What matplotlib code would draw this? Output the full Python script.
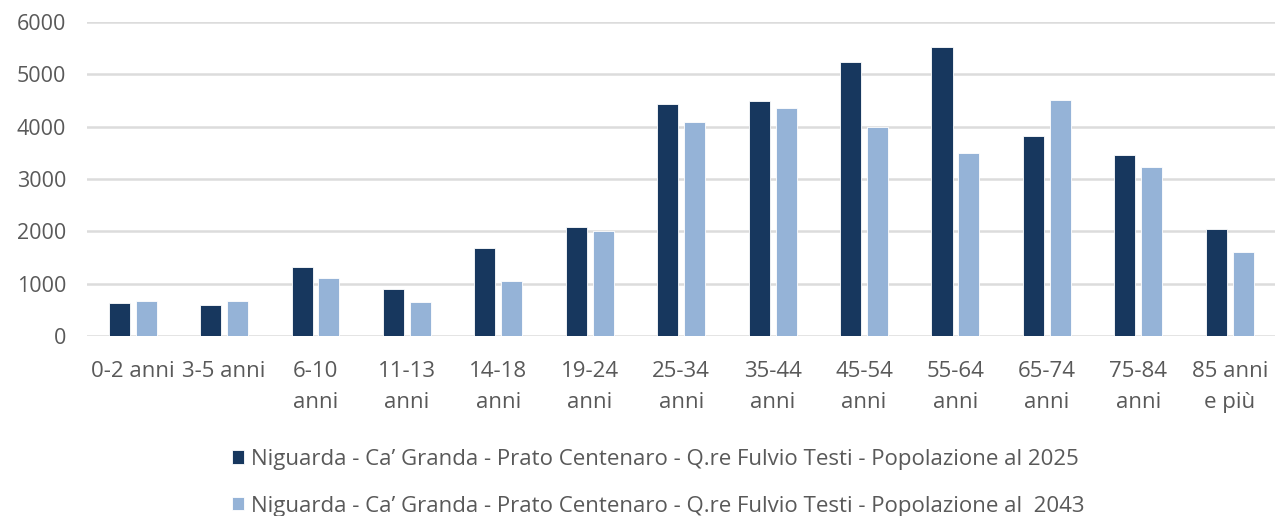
import numpy as np
import matplotlib.pyplot as plt

plt.rcParams['font.family'] = ['Open Sans', 'DejaVu Sans']

categories = ['0-2 anni', '3-5 anni', '6-10\nanni', '11-13\nanni', '14-18\nanni',
              '19-24\nanni', '25-34\nanni', '35-44\nanni', '45-54\nanni',
              '55-64\nanni', '65-74\nanni', '75-84\nanni', '85 anni\ne più']
pop_2025 = [625, 598, 1313, 891, 1683, 2078, 4436, 4487, 5233, 5520, 3824, 3455, 2052]
pop_2043 = [675, 675, 1103, 650, 1052, 2002, 4092, 4354, 3990, 3505, 4512, 3226, 1606]
labels = ['Niguarda - Ca\u2019 Granda - Prato Centenaro - Q.re Fulvio Testi - Popolazione al 2025',
          'Niguarda - Ca\u2019 Granda - Prato Centenaro - Q.re Fulvio Testi - Popolazione al  2043']

DARK = '#17375e'
LIGHT = '#95b3d7'
TXT = '#595959'

fig = plt.figure(figsize=(12.78, 5.16), dpi=100)
ax = fig.add_axes([0.068, 0.349, 0.93, 0.608])

x = np.arange(len(categories))
w = 0.23
ax.bar(x - 0.147, pop_2025, w, color=DARK, edgecolor='white', linewidth=0.6,
       label=labels[0], zorder=3)
ax.bar(x + 0.147, pop_2043, w, color=LIGHT, edgecolor='white', linewidth=0.6,
       label=labels[1], zorder=3)

ax.set_xlim(-0.5, len(categories) - 0.5)
ax.set_ylim(0, 6000)
ax.set_yticks(range(0, 6001, 1000))
ax.yaxis.grid(True, color='#dcdcdc', linewidth=1.8, zorder=0)
ax.set_axisbelow(True)
for s in ax.spines.values():
    s.set_visible(False)
ax.tick_params(length=0, labelsize=16, colors=TXT)
ax.tick_params(axis='y', labelsize=15.5, pad=15)
ax.tick_params(axis='x', pad=18)
ax.set_xticks(x)
ax.set_xticklabels(categories, linespacing=1.65)

fig.legend(loc='upper center', bbox_to_anchor=(0.515, 0.147), ncol=1, frameon=False,
           fontsize=16, labelcolor=TXT, handlelength=0.55, handleheight=0.55,
           handletextpad=0.3, labelspacing=1.15, borderaxespad=0)

fig.savefig('out.png', dpi=100)
